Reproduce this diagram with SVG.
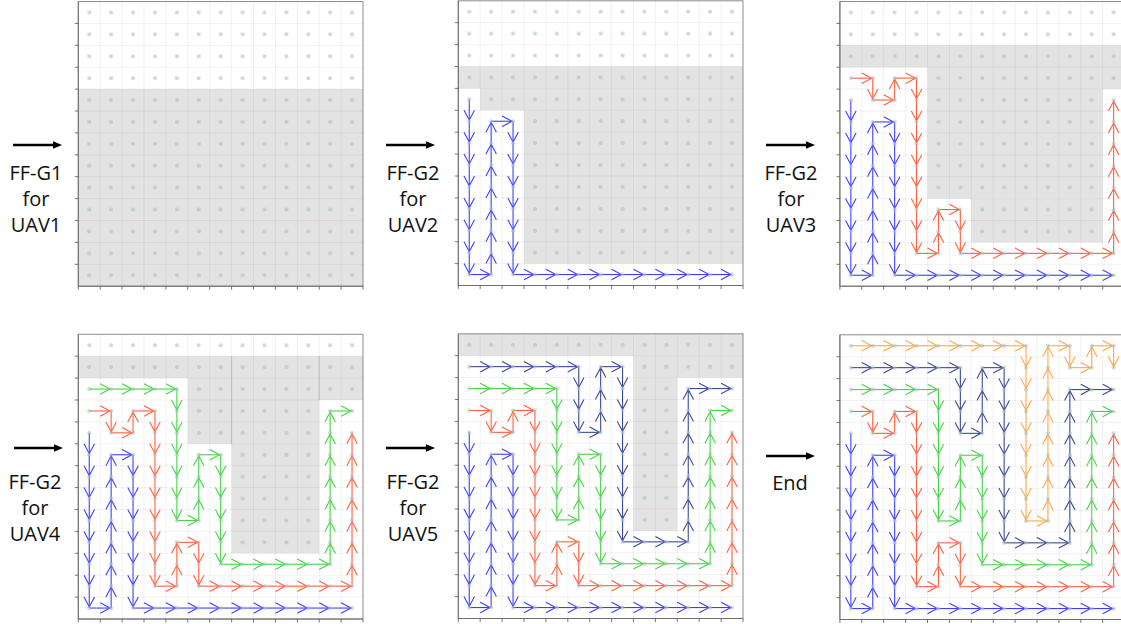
<svg xmlns="http://www.w3.org/2000/svg" xmlns:xlink="http://www.w3.org/1999/xlink" width="1121" height="624" viewBox="0 0 1121 624">
<style>
.lbl{font-family:"Open Sans","Liberation Sans",sans-serif;font-size:20px;text-anchor:middle;fill:#111}
.gray rect{fill:#e3e3e3}
.b path,.r path,.g path,.n path,.o path{fill:none;stroke-width:0.05}
.b path{stroke:#3f3fff;marker-end:url(#mb)}
.r path{stroke:#ff5f3f;marker-end:url(#mr)}
.g path{stroke:#44d444;marker-end:url(#mg)}
.n path{stroke:#3a4896;marker-end:url(#mn)}
.o path{stroke:#ffa64a;marker-end:url(#mo)}
</style>
<defs>
<marker id="mb" markerUnits="userSpaceOnUse" markerWidth="1" markerHeight="1" orient="auto" overflow="visible"><path d="M-0.5 -0.24L-0.05 0L-0.5 0.24" fill="none" stroke="#3f3fff" stroke-width="0.05"/></marker>
<marker id="mr" markerUnits="userSpaceOnUse" markerWidth="1" markerHeight="1" orient="auto" overflow="visible"><path d="M-0.5 -0.24L-0.05 0L-0.5 0.24" fill="none" stroke="#ff5f3f" stroke-width="0.05"/></marker>
<marker id="mg" markerUnits="userSpaceOnUse" markerWidth="1" markerHeight="1" orient="auto" overflow="visible"><path d="M-0.5 -0.24L-0.05 0L-0.5 0.24" fill="none" stroke="#44d444" stroke-width="0.05"/></marker>
<marker id="mn" markerUnits="userSpaceOnUse" markerWidth="1" markerHeight="1" orient="auto" overflow="visible"><path d="M-0.5 -0.24L-0.05 0L-0.5 0.24" fill="none" stroke="#3a4896" stroke-width="0.05"/></marker>
<marker id="mo" markerUnits="userSpaceOnUse" markerWidth="1" markerHeight="1" orient="auto" overflow="visible"><path d="M-0.5 -0.24L-0.05 0L-0.5 0.24" fill="none" stroke="#ffa64a" stroke-width="0.05"/></marker>
<pattern id="dotpat" patternUnits="userSpaceOnUse" width="21.9" height="21.9"><circle cx="10.95" cy="10.95" r="2.1" fill="#a9c2bd" fill-opacity="0.6"/></pattern>
<path id="grid" fill="none" stroke="#000" stroke-opacity="0.055" stroke-width="1" d="M21.9 0V284.7M43.8 0V284.7M65.7 0V284.7M87.6 0V284.7M109.5 0V284.7M131.4 0V284.7M153.3 0V284.7M175.2 0V284.7M197.1 0V284.7M219 0V284.7M240.9 0V284.7M262.8 0V284.7M0 21.9H284.7M0 43.8H284.7M0 65.7H284.7M0 87.6H284.7M0 109.5H284.7M0 131.4H284.7M0 153.3H284.7M0 175.2H284.7M0 197.1H284.7M0 219H284.7M0 240.9H284.7M0 262.8H284.7"/>
<rect id="dots" width="284.7" height="284.7" fill="url(#dotpat)"/>
<g id="frame">
<rect width="284.7" height="284.7" fill="none" stroke="#8c8c8c" stroke-width="1"/>
<path d="M0 0V284.7H284.7" fill="none" stroke="#707070" stroke-width="1"/>
<path fill="none" stroke="#555" stroke-width="0.8" d="M-3.5 21.9H0M-3.5 43.8H0M-3.5 65.7H0M-3.5 87.6H0M-3.5 109.5H0M-3.5 131.4H0M-3.5 153.3H0M-3.5 175.2H0M-3.5 197.1H0M-3.5 219H0M-3.5 240.9H0M-3.5 262.8H0M0 284.7v3.5M21.9 284.7v3.5M43.8 284.7v3.5M65.7 284.7v3.5M87.6 284.7v3.5M109.5 284.7v3.5M131.4 284.7v3.5M153.3 284.7v3.5M175.2 284.7v3.5M197.1 284.7v3.5M219 284.7v3.5M240.9 284.7v3.5M262.8 284.7v3.5M284.7 284.7v3.5"/>
</g>
<g id="bigArrow"><line x1="0" y1="0" x2="42" y2="0" stroke="#000" stroke-width="2.6"/><path d="M49 0L40 -3.8L40 3.8Z" fill="#000"/></g>
<g id="pB" class="b">
<path d="M0 4v1"/><path d="M0 5v1"/><path d="M0 6v1"/><path d="M0 7v1"/><path d="M0 8v1"/><path d="M0 9v1"/><path d="M0 10v1"/><path d="M0 11v1"/>
<path d="M0 12h1"/>
<path d="M1 12v-1"/><path d="M1 11v-1"/><path d="M1 10v-1"/><path d="M1 9v-1"/><path d="M1 8v-1"/><path d="M1 7v-1"/><path d="M1 6v-1"/>
<path d="M1 5h1"/>
<path d="M2 5v1"/><path d="M2 6v1"/><path d="M2 7v1"/><path d="M2 8v1"/><path d="M2 9v1"/><path d="M2 10v1"/><path d="M2 11v1"/>
<path d="M2 12h1"/><path d="M3 12h1"/><path d="M4 12h1"/><path d="M5 12h1"/><path d="M6 12h1"/><path d="M7 12h1"/><path d="M8 12h1"/><path d="M9 12h1"/><path d="M10 12h1"/><path d="M11 12h1"/>
</g>
<g id="pR" class="r">
<path d="M0 3h1"/><path d="M1 3v1"/><path d="M1 4h1"/><path d="M2 4v-1"/><path d="M2 3h1"/>
<path d="M3 3v1"/><path d="M3 4v1"/><path d="M3 5v1"/><path d="M3 6v1"/><path d="M3 7v1"/><path d="M3 8v1"/><path d="M3 9v1"/><path d="M3 10v1"/>
<path d="M3 11h1"/>
<path d="M4 11v-1"/><path d="M4 10v-1"/>
<path d="M4 9h1"/>
<path d="M5 9v1"/><path d="M5 10v1"/>
<path d="M5 11h1"/><path d="M6 11h1"/><path d="M7 11h1"/><path d="M8 11h1"/><path d="M9 11h1"/><path d="M10 11h1"/><path d="M11 11h1"/>
<path d="M12 11v-1"/><path d="M12 10v-1"/><path d="M12 9v-1"/><path d="M12 8v-1"/><path d="M12 7v-1"/><path d="M12 6v-1"/><path d="M12 5v-1"/>
</g>
<g id="pG" class="g">
<path d="M0 2h1"/><path d="M1 2h1"/><path d="M2 2h1"/><path d="M3 2h1"/>
<path d="M4 2v1"/><path d="M4 3v1"/><path d="M4 4v1"/><path d="M4 5v1"/><path d="M4 6v1"/><path d="M4 7v1"/>
<path d="M4 8h1"/>
<path d="M5 8v-1"/><path d="M5 7v-1"/><path d="M5 6v-1"/>
<path d="M5 5h1"/>
<path d="M6 5v1"/><path d="M6 6v1"/><path d="M6 7v1"/><path d="M6 8v1"/><path d="M6 9v1"/>
<path d="M6 10h1"/><path d="M7 10h1"/><path d="M8 10h1"/><path d="M9 10h1"/><path d="M10 10h1"/>
<path d="M11 10v-1"/><path d="M11 9v-1"/><path d="M11 8v-1"/><path d="M11 7v-1"/><path d="M11 6v-1"/><path d="M11 5v-1"/><path d="M11 4v-1"/>
<path d="M11 3h1"/>
</g>
<g id="pN" class="n">
<path d="M0 1h1"/><path d="M1 1h1"/><path d="M2 1h1"/><path d="M3 1h1"/><path d="M4 1h1"/>
<path d="M5 1v1"/><path d="M5 2v1"/><path d="M5 3v1"/>
<path d="M5 4h1"/>
<path d="M6 4v-1"/><path d="M6 3v-1"/><path d="M6 2v-1"/>
<path d="M6 1h1"/>
<path d="M7 1v1"/><path d="M7 2v1"/><path d="M7 3v1"/><path d="M7 4v1"/><path d="M7 5v1"/><path d="M7 6v1"/><path d="M7 7v1"/><path d="M7 8v1"/>
<path d="M7 9h1"/><path d="M8 9h1"/><path d="M9 9h1"/>
<path d="M10 9v-1"/><path d="M10 8v-1"/><path d="M10 7v-1"/><path d="M10 6v-1"/><path d="M10 5v-1"/><path d="M10 4v-1"/><path d="M10 3v-1"/>
<path d="M10 2h1"/><path d="M11 2h1"/>
</g>
<g id="pO" class="o">
<path d="M0 0h1"/><path d="M1 0h1"/><path d="M2 0h1"/><path d="M3 0h1"/><path d="M4 0h1"/><path d="M5 0h1"/><path d="M6 0h1"/><path d="M7 0h1"/>
<path d="M8 0v1"/><path d="M8 1v1"/><path d="M8 2v1"/><path d="M8 3v1"/><path d="M8 4v1"/><path d="M8 5v1"/><path d="M8 6v1"/><path d="M8 7v1"/>
<path d="M8 8h1"/>
<path d="M9 8v-1"/><path d="M9 7v-1"/><path d="M9 6v-1"/><path d="M9 5v-1"/><path d="M9 4v-1"/><path d="M9 3v-1"/><path d="M9 2v-1"/><path d="M9 1v-1"/>
<path d="M9 0h1"/><path d="M10 0v1"/><path d="M10 1h1"/><path d="M11 1v-1"/><path d="M11 0h1"/><path d="M12 0v1"/>
</g>
</defs>
<rect width="1121" height="624" fill="#fff"/>

<g id="label1"><use href="#bigArrow" transform="translate(13,145)"/><text class="lbl" x="36" y="180">FF-G1</text><text class="lbl" x="36" y="206">for</text><text class="lbl" x="36" y="232">UAV1</text></g>
<g id="label2"><use href="#bigArrow" transform="translate(386,145)"/><text class="lbl" x="413" y="180">FF-G2</text><text class="lbl" x="413" y="206">for</text><text class="lbl" x="413" y="232">UAV2</text></g>
<g id="label3"><use href="#bigArrow" transform="translate(766,145)"/><text class="lbl" x="791" y="180">FF-G2</text><text class="lbl" x="791" y="206">for</text><text class="lbl" x="791" y="232">UAV3</text></g>
<g id="label4"><use href="#bigArrow" transform="translate(14,448)"/><text class="lbl" x="35" y="488.5">FF-G2</text><text class="lbl" x="35" y="514.5">for</text><text class="lbl" x="35" y="540.5">UAV4</text></g>
<g id="label5"><use href="#bigArrow" transform="translate(386,448)"/><text class="lbl" x="413" y="488.5">FF-G2</text><text class="lbl" x="413" y="514.5">for</text><text class="lbl" x="413" y="540.5">UAV5</text></g>
<g id="label6"><use href="#bigArrow" transform="translate(766,456)"/><text class="lbl" x="790" y="490">End</text></g>

<g id="panel1" transform="translate(78.3,1.5)">
<g class="gray"><rect x="0" y="87.6" width="284.7" height="197.1"/></g>
<use href="#grid"/><use href="#dots"/><use href="#frame"/>
</g>

<g id="panel2" transform="translate(458.3,0.8)">
<g class="gray"><rect x="0" y="65.7" width="284.7" height="21.9"/><rect x="21.9" y="87.6" width="262.8" height="21.9"/><rect x="65.7" y="109.5" width="219" height="153.3"/></g>
<use href="#grid"/>
<g class="conn" transform="translate(10.95,10.95) scale(21.9)"><use href="#pB"/></g>
<use href="#dots"/><use href="#frame"/>
</g>

<g id="panel3" transform="translate(839.9,1.5)">
<g class="gray"><rect x="0" y="43.8" width="284.7" height="21.9"/><rect x="87.6" y="65.7" width="197.1" height="21.9"/><rect x="87.6" y="87.6" width="175.2" height="109.5"/><rect x="131.4" y="197.1" width="131.4" height="43.8"/></g>
<use href="#grid"/>
<g class="conn" transform="translate(10.95,10.95) scale(21.9)"><use href="#pB"/><use href="#pR"/></g>
<use href="#dots"/><use href="#frame"/>
</g>

<g id="panel4" transform="translate(78.3,334.3)">
<g class="gray"><rect x="0" y="21.9" width="284.7" height="21.9"/><rect x="109.5" y="43.8" width="175.2" height="21.9"/><rect x="109.5" y="65.7" width="131.4" height="43.8"/><rect x="153.3" y="109.5" width="87.6" height="109.5"/></g>
<path d="M153.3 21.9V109.5M240.9 21.9V65.7" stroke="#c6c6c6" stroke-width="1" fill="none"/>
<use href="#grid"/>
<g class="conn" transform="translate(10.95,10.95) scale(21.9)"><use href="#pB"/><use href="#pR"/><use href="#pG"/></g>
<use href="#dots"/><use href="#frame"/>
</g>

<g id="panel5" transform="translate(458.3,333.8)">
<g class="gray"><rect x="0" y="0" width="284.7" height="21.9"/><rect x="175.2" y="21.9" width="109.5" height="21.9"/><rect x="175.2" y="43.8" width="43.8" height="153.3"/></g>
<use href="#grid"/>
<g class="conn" transform="translate(10.95,10.95) scale(21.9)"><use href="#pB"/><use href="#pR"/><use href="#pG"/><use href="#pN"/></g>
<use href="#dots"/><use href="#frame"/>
</g>

<g id="panel6" transform="translate(839.9,334.8)">
<use href="#grid"/>
<g class="conn" transform="translate(10.95,10.95) scale(21.9)"><use href="#pB"/><use href="#pR"/><use href="#pG"/><use href="#pN"/><use href="#pO"/></g>
<use href="#dots"/><use href="#frame"/>
</g>
</svg>
